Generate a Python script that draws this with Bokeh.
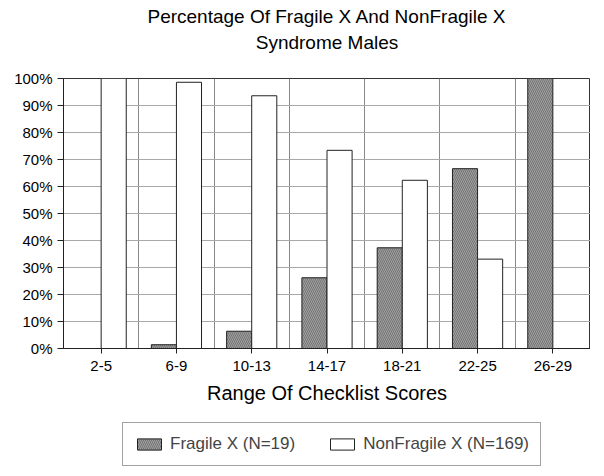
from bokeh.plotting import figure
from bokeh.layouts import column
from bokeh.models import (Range1d, FixedTicker, PrintfTickFormatter, Legend, LegendItem,
                          Title, ColumnDataSource)
from bokeh.transform import dodge
from bokeh.embed import file_html
from bokeh.resources import INLINE

categories = ["2-5", "6-9", "10-13", "14-17", "18-21", "22-25", "26-29"]
fragile = [0, 1.4, 6.4, 26.2, 37.3, 66.6, 100]
nonfragile = [100, 98.6, 93.6, 73.4, 62.3, 33.1, 0]
y_ticks = [0, 10, 20, 30, 40, 50, 60, 70, 80, 90, 100]
title_lines = ["Percentage Of Fragile X And NonFragile X", "Syndrome Males"]
x_label = "Range Of Checklist Scores"
legend_labels = ["Fragile X (N=19)", "NonFragile X (N=169)"]

pos = list(range(1, len(categories) + 1))
src = ColumnDataSource(dict(x=pos, fragile=fragile, nonfragile=nonfragile))

FONT = "Liberation Sans"
FRAG_STYLE = dict(fill_color="#a0a0a0", line_color="#222222", line_width=1,
                  hatch_pattern="\\", hatch_color="#555555", hatch_scale=4, hatch_weight=1,
                  hatch_alpha=0.6)
NONFRAG_STYLE = dict(fill_color="white", line_color="#222222", line_width=1)

p = figure(frame_width=527, frame_height=270, output_backend="svg", toolbar_location=None,
           x_range=Range1d(0.5, len(categories) + 0.5), y_range=Range1d(0, 100),
           title=None, min_border=0)
p.background_fill_color = "white"
p.outline_line_color = "#333333"
p.outline_line_width = 1

bw = 1 / 3
r1 = p.vbar(x=dodge("x", -bw / 2), top="fragile", width=bw, source=src, **FRAG_STYLE)
r2 = p.vbar(x=dodge("x", bw / 2), top="nonfragile", width=bw, source=src, **NONFRAG_STYLE)

# axes
p.xaxis.ticker = FixedTicker(ticks=pos)
p.xaxis.major_label_overrides = {i: c for i, c in zip(pos, categories)}
p.xaxis.minor_tick_line_color = None
p.xaxis.major_tick_out = 5
p.xaxis.major_tick_in = 0
p.xaxis.major_label_standoff = 7
p.xaxis.major_label_text_font = FONT
p.xaxis.major_label_text_font_size = "15px"
p.xaxis.major_label_text_color = "black"
p.xaxis.axis_label = x_label
p.xaxis.axis_label_text_font = FONT
p.xaxis.axis_label_text_font_size = "20px"
p.xaxis.axis_label_text_font_style = "normal"
p.xaxis.axis_label_text_color = "black"
p.xaxis.axis_label_standoff = 8
p.xaxis.axis_line_color = "#222222"
p.xaxis.major_tick_line_color = "#222222"

p.yaxis.ticker = FixedTicker(ticks=y_ticks)
p.yaxis.formatter = PrintfTickFormatter(format="%d%%")
p.yaxis.minor_tick_line_color = None
p.yaxis.major_tick_out = 6
p.yaxis.major_tick_in = 0
p.yaxis.major_label_standoff = 5
p.yaxis.major_label_text_font = FONT
p.yaxis.major_label_text_font_size = "15px"
p.yaxis.major_label_text_color = "black"
p.yaxis.axis_line_color = "#222222"
p.yaxis.major_tick_line_color = "#222222"

# grids
p.ygrid.ticker = FixedTicker(ticks=y_ticks)
p.ygrid.grid_line_color = "#a8a8a8"
p.ygrid.grid_line_width = 1
p.xgrid.ticker = FixedTicker(ticks=[x + 0.5 for x in pos[:-1]])
p.xgrid.grid_line_color = "#888888"
p.xgrid.grid_line_width = 1

# titles: spacer nearest the plot, then line 2, then line 1
p.add_layout(Title(text=" ", text_font_size="2px", standoff=21), "above")
p.add_layout(Title(text=title_lines[1], align="center", text_font=FONT, text_font_size="19px",
                   text_font_style="normal", text_color="black", standoff=1), "above")
p.add_layout(Title(text=title_lines[0], align="center", text_font=FONT, text_font_size="19px",
                   text_font_style="normal", text_color="black", standoff=6), "above")

# small left spacer
p.add_layout(Title(text=" ", text_font_size="2px", standoff=7), "left")

# legend in its own strip below the chart; its bars fall outside this strip's ranges
p2 = figure(width=588, height=64, output_backend="svg", toolbar_location=None,
            x_range=Range1d(100, 101), y_range=Range1d(1000, 1001), title=None, min_border=0)
p2.axis.visible = False
p2.grid.visible = False
p2.outline_line_color = None
l1 = p2.vbar(x=dodge("x", -bw / 2), top="fragile", width=bw, source=src, **FRAG_STYLE)
l2 = p2.vbar(x=dodge("x", bw / 2), top="nonfragile", width=bw, source=src, **NONFRAG_STYLE)

legend = Legend(items=[LegendItem(label=legend_labels[0], renderers=[l1]),
                       LegendItem(label=legend_labels[1], renderers=[l2])],
                orientation="horizontal", location=(59, 4),
                label_text_font=FONT, label_text_font_size="17px",
                glyph_width=30, glyph_height=14, label_standoff=6, spacing=32,
                padding=11, margin=0, border_line_color="#444444", border_line_width=1)
p2.add_layout(legend)

layout = column(p, p2, spacing=0)
open("out.html", "w").write(file_html(layout, INLINE))
